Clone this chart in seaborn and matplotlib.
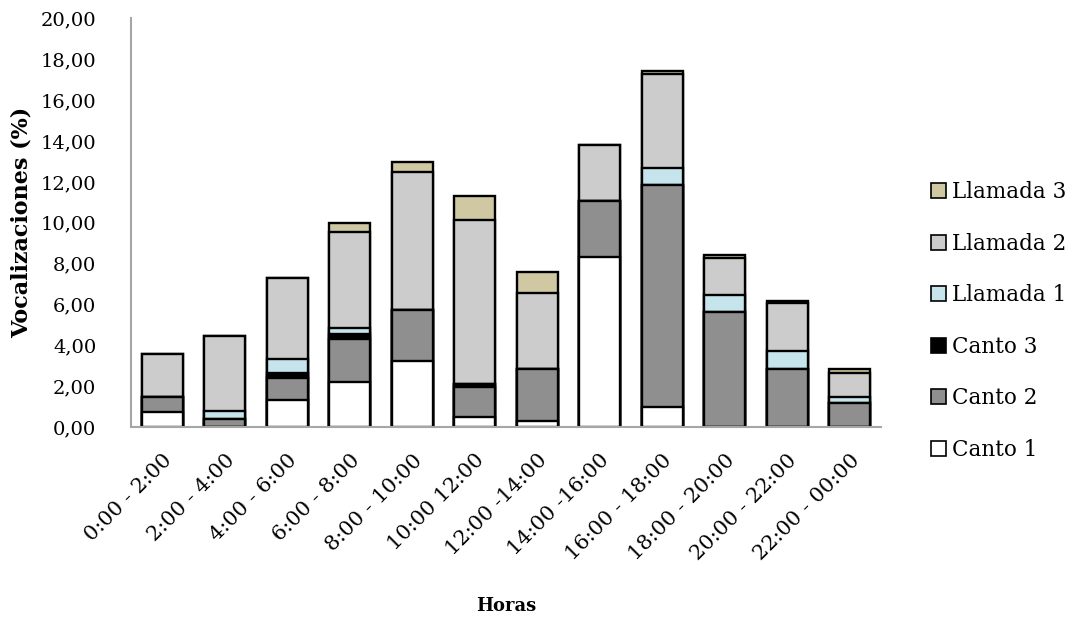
import numpy as np
import matplotlib
matplotlib.use("Agg")
import matplotlib.pyplot as plt
from matplotlib.patches import Patch
import seaborn as sns

# Time slots (x categories)
horas = ["0:00 - 2:00", "2:00 - 4:00", "4:00 - 6:00", "6:00 - 8:00",
         "8:00 - 10:00", "10:00 12:00", "12:00 -14:00", "14:00 -16:00",
         "16:00 - 18:00", "18:00 - 20:00", "20:00 - 22:00", "22:00 - 00:00"]

# Percentage of vocalizations per type (stack order, bottom to top)
canto_1 = [0.72, 0.00, 1.30, 2.19, 3.22, 0.50, 0.28, 8.34, 0.97, 0.00, 0.00, 0.00]
canto_2 = [0.76, 0.37, 1.11, 2.12, 2.53, 1.48, 2.57, 2.72, 10.87, 5.65, 2.83, 1.18]
canto_3 = [0.00, 0.00, 0.24, 0.25, 0.00, 0.12, 0.00, 0.00, 0.00, 0.00, 0.00, 0.00]
llamada_1 = [0.00, 0.41, 0.70, 0.27, 0.00, 0.00, 0.00, 0.00, 0.85, 0.81, 0.91, 0.30]
llamada_2 = [2.07, 3.66, 3.93, 4.74, 6.71, 8.03, 3.71, 2.75, 4.61, 1.80, 2.31, 1.14]
llamada_3 = [0.00, 0.00, 0.00, 0.41, 0.49, 1.20, 1.03, 0.00, 0.13, 0.14, 0.12, 0.24]

series = [
    ("Canto 1", canto_1, "#FFFFFF"),
    ("Canto 2", canto_2, "#8F8F8F"),
    ("Canto 3", canto_3, "#000000"),
    ("Llamada 1", llamada_1, "#C6E4EC"),
    ("Llamada 2", llamada_2, "#CCCCCC"),
    ("Llamada 3", llamada_3, "#CFC8A3"),
]

sns.set_theme(style="white")
plt.rcParams["font.family"] = ["DejaVu Serif"]
for key in ["text.color", "axes.labelcolor", "xtick.color", "ytick.color"]:
    plt.rcParams[key] = "black"

fig = plt.figure(figsize=(10.71, 6.2), dpi=100)
ax = fig.add_axes([0.1223, 0.3113, 0.7003, 0.6589])

# Stack by drawing cumulative totals from the top layer down
cum = np.cumsum(np.array([s[1] for s in series]), axis=0)
for i in range(len(series) - 1, -1, -1):
    sns.barplot(x=horas, y=cum[i], color=series[i][2], saturation=1,
                edgecolor="black", linewidth=1.7, width=0.66, ax=ax)

ax.set_ylim(0, 20)
ax.set_xlim(-0.5, len(horas) - 0.5)
ax.set_yticks(np.arange(0, 21, 2))
ax.set_yticklabels([f"{v:.2f}".replace(".", ",") for v in np.arange(0, 21, 2)],
                   fontsize=14)
ax.set_xticks(range(len(horas)))
ax.set_xticklabels(horas, rotation=45, ha="right", rotation_mode="anchor",
                   fontsize=15)
ax.tick_params(axis="both", length=0)
ax.tick_params(axis="y", pad=25)
ax.tick_params(axis="x", pad=17)

for side in ["top", "right"]:
    ax.spines[side].set_visible(False)
for side in ["left", "bottom"]:
    ax.spines[side].set_color("#A6A6A6")
    ax.spines[side].set_linewidth(1.5)

ax.set_ylabel("Vocalizaciones (%)", fontsize=16, fontweight="bold", labelpad=6)
ax.set_xlabel("Horas", fontsize=13, fontweight="bold", labelpad=24)

handles = [Patch(facecolor=c, edgecolor="black", linewidth=1.2, label=n)
           for n, _, c in series[::-1]]
fig.legend(handles=handles, loc="center left", bbox_to_anchor=(0.861, 0.482),
           frameon=False, fontsize=15.5, handlelength=0.7, handleheight=0.7,
           handletextpad=0.28, labelspacing=1.37, borderaxespad=0)

fig.savefig("out.png", dpi=100)
